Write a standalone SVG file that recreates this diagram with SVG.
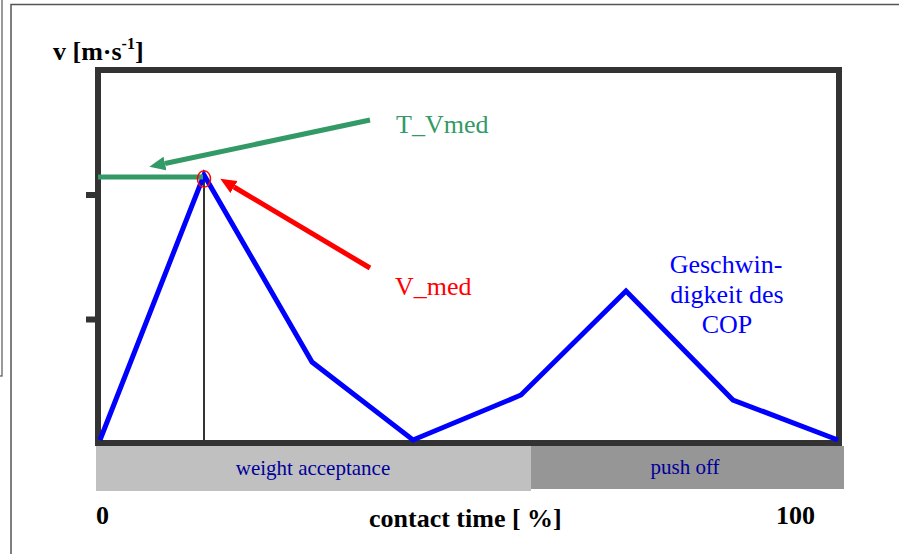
<svg xmlns="http://www.w3.org/2000/svg" width="899" height="554" viewBox="0 0 899 554">
<style>
text{font-family:'Liberation Serif','DejaVu Serif',serif}
.bold{font-weight:bold;font-size:26px;fill:#000}
.lbl{font-size:26px}
.bar{font-size:21px;fill:#000099;text-anchor:middle}
.frame{fill:none;stroke:#333333;stroke-width:6}
.tick{stroke:#333333;stroke-width:6}
.arr{stroke-width:5;fill:none}
</style>
<defs>
<marker id="hg" markerUnits="userSpaceOnUse" markerWidth="16" markerHeight="14" viewBox="0 0 16 14" refX="0" refY="7" orient="auto"><path d="M0,0 L16,7 L0,14 z" fill="#339966"/></marker>
<marker id="hr" markerUnits="userSpaceOnUse" markerWidth="16" markerHeight="14" viewBox="0 0 16 14" refX="0" refY="7" orient="auto"><path d="M0,0 L16,7 L0,14 z" fill="#ff0000"/></marker>
</defs>
<rect width="899" height="554" fill="#fff"/>
<g id="outer">
<rect x="-10" y="-10" width="12" height="386" fill="none" stroke="#555" stroke-width="1.2"/>
<rect x="11" y="4.5" width="900" height="560" fill="none" stroke="#555" stroke-width="1.5"/>
</g>
<g id="phases">
<rect x="96" y="446" width="435" height="45" fill="#c0c0c0"/>
<rect x="531" y="446" width="313" height="43" fill="#969696"/>
<text class="bar" x="313" y="475">weight acceptance</text>
<text class="bar" x="685" y="474">push off</text>
</g>
<g id="axes">
<rect class="frame" x="98" y="70" width="741" height="373"/>
<line class="tick" x1="86" y1="195" x2="98" y2="195"/>
<line class="tick" x1="86" y1="319.5" x2="98" y2="319.5"/>
<text class="bold" x="53" y="60">v [m·s<tspan font-size="16" dy="-11">-1</tspan><tspan dy="11">]</tspan></text>
<text class="bold" x="96" y="524">0</text>
<text class="bold" x="369" y="527" font-size="26.5">contact time [ %]</text>
<text class="bold" x="776" y="524">100</text>
</g>
<g id="curve">
<line x1="204" y1="180" x2="204" y2="443" stroke="#333" stroke-width="2"/>
<polyline points="100,440 204,175 312,362 413,440 521,395 626,291 733,400 838,440" fill="none" stroke="#0000ff" stroke-width="5" stroke-linejoin="miter"/>
<text class="lbl" fill="#0000ff" text-anchor="middle"><tspan x="726" y="273">Geschwin-</tspan><tspan x="727" y="303">digkeit des</tspan><tspan x="727" y="333">COP</tspan></text>
</g>
<g id="tvmed">
<line x1="98" y1="177" x2="203" y2="177" stroke="#339966" stroke-width="5"/>
<text class="lbl" fill="#339966" x="396" y="133">T_Vmed</text>
</g>
<g id="vmed">
<ellipse cx="204" cy="179" rx="6.5" ry="8.3" fill="none" stroke="#ff0000" stroke-width="1.5"/>
<text class="lbl" fill="#ff0000" x="395" y="295">V_med</text>
</g>
<g id="connectors">
<line class="arr" x1="370" y1="120" x2="165" y2="163.5" stroke="#339966" marker-end="url(#hg)"/>
<line class="arr" x1="370" y1="268" x2="234" y2="187" stroke="#ff0000" marker-end="url(#hr)"/>
</g>
</svg>
